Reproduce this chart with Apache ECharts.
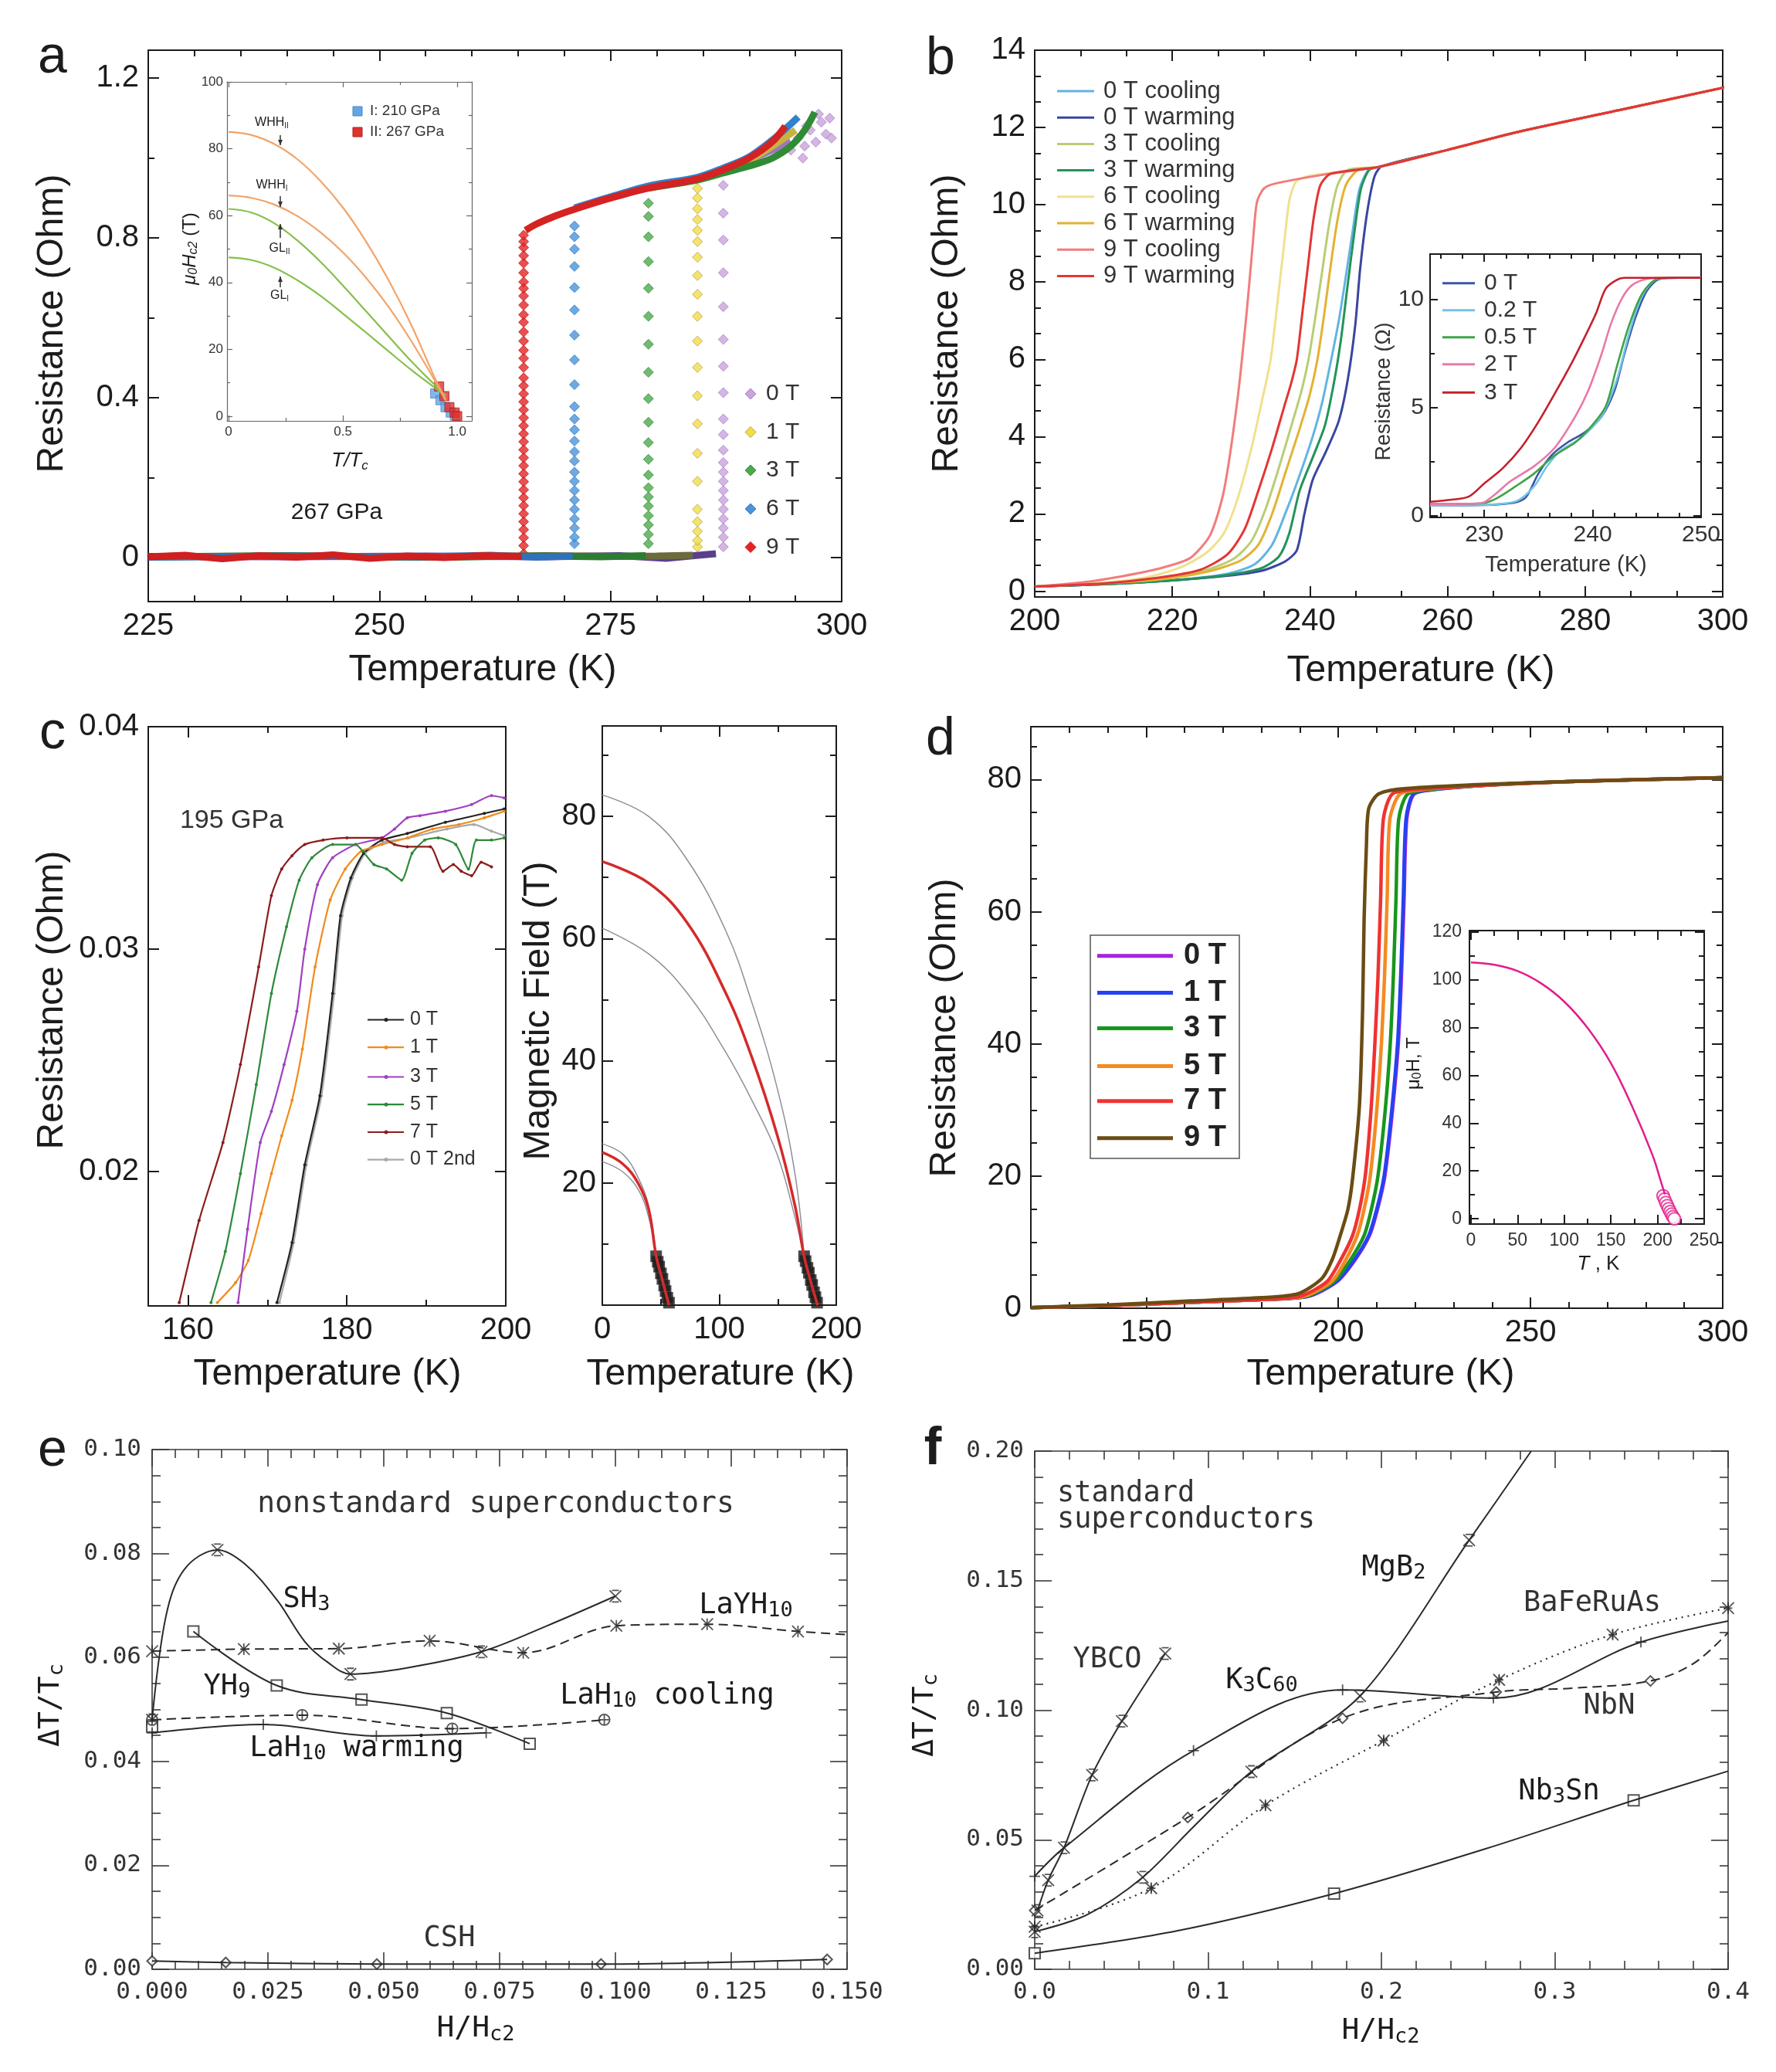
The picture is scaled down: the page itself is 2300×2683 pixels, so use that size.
<!DOCTYPE html>
<html>
<head>
<meta charset="utf-8">
<title>Resistive transitions in field</title>
<script src="https://cdn.jsdelivr.net/npm/echarts@6.0.0/dist/echarts.min.js"></script>
<style>
  html, body { margin: 0; padding: 0; background: #fff; }
  #chart { width: 2300px; height: 2683px; }
</style>
</head>
<body>
<div id="chart"></div>
<script>
// ---------------- panel a : R(T), 267 GPa ----------------
const aXTicks = [225, 250, 275, 300];
const aYTicks = [0, 0.4, 0.8, 1.2];
const aLegend = ['0 T', '1 T', '3 T', '6 T', '9 T'];
const aTc = [287.2, 284.4, 279.1, 271.1, 265.6];

const aBase0T = [225, 240, 255, 268, 276, 281, 284.5, 286.4];
const aBase0R = [0.003, 0.002, 0.004, 0.002, 0.005, -0.002, 0.006, 0.01];
const aDrop0 = [0.027, 0.051, 0.074, 0.097, 0.121, 0.144, 0.168, 0.191, 0.214, 0.238, 0.269, 0.308, 0.347, 0.413, 0.479, 0.546, 0.628, 0.713, 0.795, 0.862, 0.932];
const aNorm0T = [287.2, 289, 291, 293, 294.5];
const aNorm0R = [0.97, 0.985, 1.005, 1.025, 1.04];
const aCloud0T = [294.5, 295.3, 296, 296.6, 297.2, 297.8, 298.3, 298.7, 297.5, 296.2, 298.9, 295.8];
const aCloud0R = [1.02, 1.05, 1.03, 1.07, 1.04, 1.09, 1.06, 1.1, 1.11, 1.08, 1.05, 1.0];

const aBase1T = [225, 240, 255, 268, 276, 280, 283.9];
const aBase1R = [0.002, 0.004, 0.001, 0.005, 0.003, 0.004, 0.006];
const aDrop1 = [0.027, 0.043, 0.066, 0.09, 0.121, 0.191, 0.261, 0.335, 0.405, 0.476, 0.542, 0.604, 0.659, 0.706, 0.752, 0.791, 0.819, 0.846, 0.873, 0.9, 0.924];
const aNorm1T = [284.4, 287, 290, 292.5, 295];
const aNorm1R = [0.947, 0.968, 0.995, 1.03, 1.07];

const aBase3T = [225, 240, 255, 268, 274, 278.8];
const aBase3R = [0.002, 0.005, 0.001, 0.004, 0.002, 0.005];
const aDrop3 = [0.035, 0.058, 0.082, 0.105, 0.129, 0.152, 0.175, 0.207, 0.246, 0.288, 0.339, 0.398, 0.464, 0.534, 0.604, 0.674, 0.741, 0.803, 0.854, 0.887];
const aNorm3T = [279.1, 284.4, 287.2, 290, 292.5, 294.5, 296, 297.1];
const aNorm3R = [0.925, 0.945, 0.963, 0.98, 1.0, 1.03, 1.07, 1.115];

const aBase6T = [225, 240, 255, 262, 267, 270.9];
const aBase6R = [0.001, 0.004, 0.002, 0.006, 0.001, 0.004];
const aDrop6 = [0.035, 0.051, 0.074, 0.097, 0.121, 0.144, 0.168, 0.191, 0.214, 0.242, 0.265, 0.292, 0.32, 0.347, 0.378, 0.433, 0.495, 0.557, 0.62, 0.676, 0.729, 0.772, 0.803, 0.83];
const aNorm6T = [271.1, 275, 279.1, 284.4, 287.2, 290, 292.5, 294, 295.3];
const aNorm6R = [0.875, 0.903, 0.93, 0.952, 0.975, 1.003, 1.045, 1.075, 1.103];

const aBase9T = [225, 229, 233, 237, 241, 245, 249, 253, 257, 261, 265.4];
const aBase9R = [0.002, 0.006, -0.003, 0.005, 0.001, 0.007, -0.002, 0.004, 0.0, 0.005, 0.003];
const aDrop9 = [0.01, 0.03, 0.05, 0.07, 0.09, 0.11, 0.13, 0.15, 0.17, 0.19, 0.21, 0.23, 0.25, 0.27, 0.29, 0.31, 0.33, 0.35, 0.37, 0.39, 0.41, 0.43, 0.45, 0.476, 0.499, 0.519, 0.542, 0.565, 0.589, 0.608, 0.632, 0.655, 0.674, 0.69, 0.713, 0.737, 0.756, 0.776, 0.791, 0.807];
const aNorm9T = [265.8, 267, 269, 271.1, 275, 279.1, 284.4, 287.2, 290, 292.5, 293.9];
const aNorm9R = [0.819, 0.835, 0.855, 0.872, 0.9, 0.925, 0.948, 0.971, 1.0, 1.041, 1.08];

// inset of a : Hc2(T/Tc)
const aInXTicks = [0, 0.5, 1.0];
const aInXLabels = ['0', '0.5', '1.0'];
const aInYTicks = [0, 20, 40, 60, 80, 100];
const aInT = [0, 0.1, 0.2, 0.3, 0.4, 0.5, 0.6, 0.7, 0.8, 0.9, 0.95];
const aWHH2 = [85, 84.1, 81.4, 76.9, 70.5, 62.4, 52.4, 40.7, 27.2, 11.8, 5];
const aWHH1 = [66, 65.3, 63.3, 59.9, 55.1, 49, 41.5, 32.7, 22.4, 10.9, 4.6];
const aGL2 = [62, 60.9, 57.7, 52.6, 46.3, 39.1, 31.5, 23.9, 16.4, 9.5, 6.2];
const aGL1 = [47.5, 46.7, 44.4, 40.7, 36.1, 30.7, 25.1, 19.4, 13.8, 8.6, 6.0];
const aSqBlueT = [0.904, 0.927, 0.949, 0.972, 0.99];
const aSqBlueH = [6.8, 4.8, 2.7, 1.1, 0.2];
const aSqRedT = [0.921, 0.944, 0.966, 0.989, 1.0];
const aSqRedH = [8.9, 6.0, 2.7, 1.1, 0];
const aInLegend = ['I: 210 GPa', 'II: 267 GPa'];

// ---------------- panel b : R(T) cooling / warming ----------------
const bXTicks = [200, 220, 240, 260, 280, 300];
const bYTicks = [0, 2, 4, 6, 8, 10, 12, 14];
const bLegend = ['0 T cooling', '0 T warming', '3 T cooling', '3 T warming', '6 T cooling', '6 T warming', '9 T cooling', '9 T warming'];
const bT0c = [200, 210, 220, 228, 232, 234.5, 236.4, 238.5, 240.4, 241.8, 243.1, 244.2, 245.1, 246.2, 247.2, 248.5, 250, 260, 270.4, 285, 300.3];
const bR0c = [0.12, 0.18, 0.28, 0.45, 0.7, 1.2, 2.0, 3.0, 4.0, 4.9, 6.0, 7.0, 8.0, 9.3, 10.4, 10.9, 10.98, 11.42, 11.89, 12.45, 13.04];
const bT0w = [200, 210, 220, 228, 233, 236.4, 238.1, 239.2, 240.4, 242.3, 244.2, 245.5, 246.6, 247.3, 248.3, 249.4, 250.5, 260, 270.4, 285, 300.3];
const bR0w = [0.12, 0.18, 0.28, 0.4, 0.53, 0.77, 1.06, 2.0, 2.88, 3.6, 4.41, 5.47, 6.9, 8.34, 9.78, 10.74, 11.0, 11.42, 11.89, 12.45, 13.04];
const bT3c = [200, 210, 218, 225, 229, 231.5, 233.5, 235.5, 237.5, 238.8, 239.8, 240.8, 241.8, 242.8, 244, 245.5, 250, 260, 270.4, 285, 300.3];
const bR3c = [0.12, 0.2, 0.32, 0.55, 0.85, 1.3, 2.1, 3.2, 4.4, 5.2, 6.0, 7.1, 8.3, 9.5, 10.5, 10.9, 10.98, 11.42, 11.89, 12.45, 13.04];
const bT3w = [200, 210, 220, 228, 233, 235.5, 237, 238.5, 240.5, 242.2, 243.5, 244.5, 245.4, 246.4, 247.4, 248.6, 250, 260, 270.4, 285, 300.3];
const bR3w = [0.12, 0.18, 0.28, 0.42, 0.6, 0.9, 1.5, 2.6, 3.5, 4.3, 5.4, 6.5, 7.8, 9.2, 10.4, 10.9, 10.98, 11.42, 11.89, 12.45, 13.04];
const bT6c = [200, 210, 216, 221, 225, 227.5, 229.5, 231.5, 233, 234.3, 235.3, 236.2, 237, 238, 240, 250, 260, 270.4, 285, 300.3];
const bR6c = [0.12, 0.22, 0.35, 0.6, 1.0, 1.5, 2.4, 3.7, 4.9, 6.0, 7.5, 8.9, 10.1, 10.6, 10.75, 10.98, 11.42, 11.89, 12.45, 13.04];
const bT6w = [200, 210, 218, 225, 230, 232.5, 234.5, 236.5, 238.5, 240, 241.1, 242.1, 243, 244, 245.2, 247, 250, 260, 270.4, 285, 300.3];
const bR6w = [0.12, 0.2, 0.3, 0.5, 0.8, 1.2, 2.0, 3.1, 4.2, 5.1, 6.0, 7.2, 8.4, 9.6, 10.5, 10.9, 10.98, 11.42, 11.89, 12.45, 13.04];
const bT9c = [200, 208, 216, 220, 222.7, 225.5, 227.5, 229.5, 230.9, 231.7, 232.3, 233.3, 235, 242, 250, 260, 270.4, 285, 300.3];
const bR9c = [0.12, 0.25, 0.5, 0.68, 0.87, 1.45, 2.6, 5.0, 7.39, 9.0, 10.07, 10.42, 10.55, 10.78, 10.98, 11.42, 11.89, 12.45, 13.04];
const bT9w = [200, 210, 218, 224, 228, 230.5, 232.5, 234.5, 236.3, 237.3, 238.1, 238.9, 239.7, 240.5, 241.5, 243, 250, 260, 270.4, 285, 300.3];
const bR9w = [0.12, 0.2, 0.35, 0.55, 0.95, 1.6, 2.6, 3.7, 4.8, 5.4, 6.0, 7.2, 8.4, 9.6, 10.5, 10.8, 10.98, 11.42, 11.89, 12.45, 13.04];

// inset of b
const bInXTicks = [230, 240, 250];
const bInYTicks = [0, 5, 10];
const bInLegend = ['0 T', '0.2 T', '0.5 T', '2 T', '3 T'];
const bInT0 = [225, 230, 231.7, 233.1, 233.9, 235, 236.2, 237.7, 239.3, 240.8, 242, 242.9, 243.9, 245, 246.2, 248, 250];
const bInR0 = [0.48, 0.5, 0.55, 0.65, 0.9, 1.96, 2.8, 3.4, 3.87, 4.58, 5.77, 7.44, 9.1, 10.4, 10.95, 11.0, 11.0];
const bInT02 = [225, 229, 231.2, 233.1, 234.6, 235.8, 237, 238.9, 240.8, 242.2, 243.4, 244.6, 246, 248, 250];
const bInR02 = [0.48, 0.5, 0.54, 0.71, 1.37, 2.3, 3.0, 3.6, 4.6, 6.25, 8.5, 10.2, 10.95, 11.0, 11.0];
const bInT05 = [225, 228, 230, 231.2, 232.9, 234.6, 236.5, 238.4, 239.8, 241.2, 242.2, 243.4, 244.6, 246, 248, 250];
const bInR05 = [0.55, 0.56, 0.6, 0.83, 1.37, 1.96, 2.8, 3.4, 4.1, 5.06, 6.85, 8.87, 10.3, 10.95, 11.0, 11.0];
const bInT2 = [225, 228, 229.8, 231, 232.4, 234.6, 236.5, 238.4, 239.6, 240.8, 241.7, 242.7, 243.6, 245, 247, 250];
const bInR2 = [0.55, 0.56, 0.6, 1.0, 1.6, 2.3, 3.15, 4.6, 5.8, 7.45, 8.9, 10.05, 10.65, 10.95, 11.0, 11.0];
const bInT3 = [225, 227, 228.6, 230, 231.7, 233.4, 235, 236.5, 238.1, 239.3, 240.3, 241.2, 242.2, 242.9, 245, 250];
const bInR3 = [0.65, 0.75, 0.9, 1.5, 2.2, 3.15, 4.35, 5.65, 7.1, 8.3, 9.35, 10.5, 10.9, 11.0, 11.0, 11.0];

// ---------------- panel c : 195 GPa ----------------
const cXTicks = [160, 180, 200];
const cYTicks = [0.02, 0.03, 0.04];
const cLegend = ['0 T', '1 T', '3 T', '5 T', '7 T', '0 T 2nd'];
const cT0 = [171.2, 173.1, 174.7, 176.6, 178.2, 179.2, 180.5, 182.1, 184.4, 187.6, 192.4, 197.3, 199.8];
const cR0 = [0.0141, 0.0168, 0.0203, 0.0234, 0.028, 0.0315, 0.0332, 0.0343, 0.0349, 0.0352, 0.0357, 0.0361, 0.0363];
const cT1 = [163.7, 166, 167.6, 169.2, 170.5, 171.8, 173.1, 174.4, 176, 177.9, 179.8, 181.8, 184.4, 187.6, 190.8, 194.1, 197.3, 199.8];
const cR1 = [0.0141, 0.015, 0.016, 0.0181, 0.0199, 0.0216, 0.0232, 0.0255, 0.0292, 0.0322, 0.0336, 0.0344, 0.0347, 0.035, 0.0354, 0.0356, 0.0359, 0.0362];
const cT3 = [166.3, 167.5, 169.1, 170.5, 172.1, 173.7, 174.7, 176.3, 178.2, 181.1, 184.4, 186, 187.6, 189.2, 192.4, 195.7, 198.2, 199.8];
const cR3 = [0.0141, 0.0174, 0.0213, 0.0227, 0.0248, 0.0272, 0.03, 0.0329, 0.0341, 0.0347, 0.035, 0.0354, 0.0359, 0.036, 0.0362, 0.0365, 0.0369, 0.0368];
const cT5 = [162.9, 164.7, 166.6, 168.6, 170.5, 172.4, 174, 175.6, 178.2, 181.1, 182, 183.4, 185, 186.9, 188.2, 189.8, 191.5, 193.7, 195.3, 196.3, 198.2, 199.8];
const cR5 = [0.0141, 0.0164, 0.0199, 0.0239, 0.028, 0.031, 0.0331, 0.0341, 0.0347, 0.0347, 0.0344, 0.0338, 0.0336, 0.0331, 0.0343, 0.0349, 0.035, 0.0347, 0.0336, 0.0349, 0.0349, 0.035];
const cT7 = [158.9, 161.4, 164.4, 166.6, 168.9, 170.5, 171.8, 173.1, 174.7, 177, 180, 184.4, 186, 187.6, 190.5, 192.1, 193.4, 194.4, 195.7, 196.9, 198.2];
const cR7 = [0.0141, 0.0178, 0.0213, 0.0248, 0.0292, 0.0324, 0.0336, 0.0342, 0.0347, 0.0349, 0.035, 0.035, 0.0347, 0.0346, 0.0346, 0.0335, 0.0338, 0.0335, 0.0333, 0.0339, 0.0337];
const cT02 = [171.5, 173.3, 174.9, 176.8, 178.4, 179.4, 180.7, 182.3, 184.6, 187.8, 192.6, 196, 198.2, 199.8];
const cR02 = [0.0141, 0.0168, 0.0203, 0.0234, 0.028, 0.0315, 0.0332, 0.0343, 0.0348, 0.035, 0.0354, 0.0356, 0.0353, 0.0351];

// c right : Hc2(T)
const cHXTicks = [0, 100, 200];
const cHYTicks = [20, 40, 60, 80];
const cHiT = [0, 39.6, 72.5, 105.5, 127.4, 149.4, 164.7, 172.5];
const cHiGrayA = [83.5, 80, 72.9, 61.3, 49.8, 35.6, 21.5, 8.0];
const cHiGrayB = [61.7, 57.5, 51.1, 41.4, 33.7, 24.7, 14.4, 8.0];
const cHiRedT = [0, 39.6, 72.5, 105.5, 127.4, 149.4, 164.7, 172.5, 178, 184];
const cHiRed = [72.6, 69.1, 62.6, 51.1, 40.8, 27.9, 16.3, 8.0, 4.0, 0];
const cLoT = [0, 17.6, 30.8, 39.6, 46.1];
const cLoGrayA = [26.4, 24.7, 20.8, 16.3, 8.0];
const cLoGrayB = [23.5, 21.8, 18.9, 14.4, 8.0];
const cLoRedT = [0, 17.6, 30.8, 39.6, 46.1, 51.5, 57];
const cLoRed = [25, 23.1, 19.9, 15.7, 8.0, 4.0, 0];
const cSqLoT = [46, 47.4, 48.6, 50.1, 51.4, 52.9, 54.1, 55.6, 57];
const cSqLoH = [8, 7.1, 6.3, 5.2, 4.3, 3.2, 2.3, 1.2, 0.4];
const cSqHiT = [172.5, 173.8, 175.4, 176.6, 178.2, 179.4, 181, 182.2, 183.6];
const cSqHiH = [8, 7.2, 6.1, 5.3, 4.1, 3.3, 2.1, 1.3, 0.4];

// ---------------- panel d ----------------
const dXTicks = [150, 200, 250, 300];
const dYTicks = [0, 20, 40, 60, 80];
const dLegend = ['0 T', '1 T', '3 T', '5 T', '7 T', '9 T'];
const dRShared = [0.1, 0.4, 0.9, 1.3, 1.8, 4, 7.2, 11, 15, 20, 30, 40, 50, 62, 74, 77.8, 78.5, 79.2, 79.7, 80.3];
const dT0 = [120, 140, 161.6, 180, 192.2, 199.6, 204.2, 208.1, 210.2, 212.1, 214.1, 215.6, 216.4, 217.1, 217.8, 219.7, 225, 240, 260, 300];
const dT1 = [120, 140, 161.6, 180, 192, 199.4, 204, 207.9, 210, 211.9, 213.9, 215.4, 216.2, 216.9, 217.6, 219.5, 225, 240, 260, 300];
const dT3 = [120, 140, 161.6, 180, 191.5, 198.8, 203, 206.7, 208.6, 210.3, 212.2, 213.5, 214.3, 215, 215.7, 218, 224, 240, 260, 300];
const dT5 = [120, 140, 161.6, 180, 191, 198.2, 201.8, 204.9, 206.7, 208.3, 210, 211.2, 212, 212.7, 213.4, 216, 222, 240, 260, 300];
const dT7 = [120, 140, 161.6, 180, 190, 197, 200.5, 203.7, 205.5, 207, 208.5, 209.5, 210.3, 211, 211.7, 214, 220, 240, 260, 300];
const dT9 = [120, 140, 161.6, 180, 189.6, 195.7, 198.5, 200.6, 202.5, 203.7, 205.5, 206.3, 206.7, 207.3, 207.9, 210.4, 216.5, 234.8, 260, 300];
const dR9 = [0.1, 0.5, 1.1, 1.6, 2.2, 4.5, 7.5, 11.2, 15, 19.6, 30.8, 45, 58.8, 70, 75.6, 77.8, 78.6, 79.2, 79.7, 80.3];
// inset of d
const dInXTicks = [0, 50, 100, 150, 200, 250];
const dInYTicks = [0, 20, 40, 60, 80, 100, 120];
const dInT = [0, 25, 50, 75, 100, 125, 150, 173, 194.8, 203.6, 207.9];
const dInH = [107.2, 106.2, 103.6, 98.5, 90.8, 79.8, 65.1, 46.8, 26.4, 15.6, 10.2];
const dCircT = [206, 207.5, 209, 210.5, 212, 213.5, 215, 216.5, 218];
const dCircH = [9.6, 8.2, 6.8, 5.5, 4.2, 3.0, 1.9, 0.9, 0];

// ---------------- panel e : nonstandard ----------------
const eXTicks = [0, 0.025, 0.05, 0.075, 0.1, 0.125, 0.15];
const eYTicks = [0, 0.02, 0.04, 0.06, 0.08, 0.1];
const eSH3X = [0, 0.003, 0.007, 0.0141, 0.02, 0.027, 0.033, 0.038, 0.0428, 0.055, 0.0711, 0.085, 0.1];
const eSH3Y = [0.048, 0.068, 0.077, 0.0807, 0.078, 0.071, 0.063, 0.059, 0.0568, 0.058, 0.0611, 0.066, 0.0718];
const eSH3MX = [0, 0.0141, 0.0428, 0.0711, 0.1];
const eSH3MY = [0.048, 0.0807, 0.0568, 0.0611, 0.0718];
const eLaYX = [0, 0.0198, 0.0403, 0.0599, 0.0801, 0.1002, 0.1198, 0.1394, 0.15];
const eLaYY = [0.0612, 0.0616, 0.0617, 0.0632, 0.0609, 0.0661, 0.0664, 0.065, 0.0644];
const eYH9X = [0.0089, 0.0269, 0.0452, 0.0636, 0.0815];
const eYH9Y = [0.065, 0.0546, 0.0519, 0.0493, 0.0434];
const eYH9MX = [0, 0.0089, 0.0269, 0.0452, 0.0636, 0.0815];
const eYH9MY = [0.0467, 0.065, 0.0546, 0.0519, 0.0493, 0.0434];
const eLaCX = [0, 0.0324, 0.0648, 0.0976];
const eLaCY = [0.048, 0.0489, 0.0463, 0.048];
const eLaWX = [0, 0.024, 0.0484, 0.0721];
const eLaWY = [0.0455, 0.0471, 0.0449, 0.0455];
const eCSHX = [0, 0.0159, 0.0485, 0.0969, 0.1457];
const eCSHY = [0.0016, 0.0013, 0.001, 0.001, 0.0019];

// ---------------- panel f : standard ----------------
const fXTicks = [0, 0.1, 0.2, 0.3, 0.4];
const fYTicks = [0, 0.05, 0.1, 0.15, 0.2];
const fYBCOX = [0.0016, 0.0078, 0.0169, 0.0331, 0.0503, 0.0753];
const fYBCOY = [0.0227, 0.0344, 0.0469, 0.075, 0.0958, 0.1219];
const fK3X = [0, 0.0169, 0.0916, 0.1776, 0.2646, 0.3497, 0.4];
const fK3Y = [0.0359, 0.0469, 0.0844, 0.1078, 0.1047, 0.1263, 0.1344];
const fK3MX = [0, 0.0916, 0.1776, 0.2646, 0.3497];
const fK3MY = [0.0359, 0.0844, 0.1078, 0.1047, 0.1263];
const fMgX = [0, 0.03, 0.0623, 0.0916, 0.125, 0.1877, 0.2506, 0.2864];
const fMgY = [0.0145, 0.021, 0.0355, 0.055, 0.0763, 0.1055, 0.1656, 0.2];
const fMgMX = [0, 0.0623, 0.125, 0.1877, 0.2506];
const fMgMY = [0.0145, 0.0355, 0.0763, 0.1055, 0.1656];
const fNbNX = [0, 0.0883, 0.1776, 0.2662, 0.31, 0.3552, 0.38, 0.4];
const fNbNY = [0.0227, 0.0586, 0.0969, 0.107, 0.1085, 0.1113, 0.118, 0.13];
const fNbNMX = [0, 0.0883, 0.1776, 0.2662, 0.3552];
const fNbNMY = [0.0227, 0.0586, 0.0969, 0.107, 0.1113];
const fBaX = [0, 0.0672, 0.1331, 0.2013, 0.2679, 0.3334, 0.4];
const fBaY = [0.0164, 0.0313, 0.0633, 0.0883, 0.1117, 0.1292, 0.1394];
const fNb3X = [0, 0.082, 0.1727, 0.26, 0.3455, 0.4];
const fNb3Y = [0.0062, 0.0148, 0.0292, 0.0465, 0.0652, 0.0765];
const fNb3MX = [0, 0.1727, 0.3455];
const fNb3MY = [0.0062, 0.0292, 0.0652];

// ================= building the option =================
const INK = '#1c1c1c';
const SANS = '"Liberation Sans", Arial, sans-serif';
const MONO = '"DejaVu Sans Mono", monospace';
const grids = [], xAxes = [], yAxes = [], series = [], graphics = [];

function zip(xs, ys) { return xs.map((x, i) => [x, ys[i]]); }
function at(x, ys) { return ys.map(y => [x, y]); }

function minorVals(min, max, step, majors) {
  const out = [];
  for (let v = Math.ceil(min / step - 1e-9) * step; v <= max + 1e-9; v += step) {
    const r = +v.toFixed(6);
    if (!majors.some(m => Math.abs(m - r) < step / 100)) out.push(r);
  }
  return out;
}

function spec(min, max, ticks, minorStep, o) {
  return Object.assign({min, max, ticks, minorStep, len: 14, minorLen: 8, width: 2, color: INK,
    size: 40, family: SANS, labelColor: INK, margin: 12, fmt: v => String(v), labels: true}, o || {});
}

function addAxes(list, gi, s, sides) {
  const minor = s.minorStep ? minorVals(s.min, s.max, s.minorStep, s.ticks) : [];
  sides.forEach((side, k) => {
    const base = {type: 'value', gridIndex: gi, min: s.min, max: s.max, position: side, splitLine: {show: false}};
    list.push(Object.assign({}, base, {
      axisLine: {show: true, onZero: false, lineStyle: {color: s.color, width: s.width}},
      axisTick: {show: true, inside: true, length: s.len, customValues: s.ticks, lineStyle: {color: s.color, width: s.width}},
      axisLabel: {show: k === 0 && s.labels, customValues: s.ticks, formatter: s.fmt, fontSize: s.size,
        fontFamily: s.family, color: s.labelColor, margin: s.margin}
    }));
    if (minor.length) {
      list.push(Object.assign({}, base, {
        axisLine: {show: false, onZero: false},
        axisTick: {show: true, inside: true, length: s.minorLen, customValues: minor, lineStyle: {color: s.color, width: s.width}},
        axisLabel: {show: false}
      }));
    }
  });
}

function panel(box, xs, ys) {
  const gi = grids.length;
  grids.push({left: box[0], top: box[1], width: box[2], height: box[3], containLabel: false, outerBoundsMode: 'none'});
  const ax = {x: xAxes.length, y: yAxes.length};
  addAxes(xAxes, gi, xs, ['bottom', 'top']);
  addAxes(yAxes, gi, ys, ['left', 'right']);
  return ax;
}

function line(ax, data, color, width, o) {
  series.push(Object.assign({type: 'line', xAxisIndex: ax.x, yAxisIndex: ax.y, data: data, showSymbol: false,
    symbol: 'none', smooth: 0.3, lineStyle: {color: color, width: width}, itemStyle: {color: color},
    silent: true, animation: false}, o || {}));
}
function marks(ax, data, symbol, size, itemStyle, o) {
  series.push(Object.assign({type: 'scatter', xAxisIndex: ax.x, yAxisIndex: ax.y, data: data, symbol: symbol,
    symbolSize: size, itemStyle: itemStyle, silent: true, animation: false}, o || {}));
}

function rich(size, fam, ratio, italic) {
  const st = italic ? 'italic' : 'normal';
  return {
    m: {fontSize: size, fontFamily: fam, fontStyle: st, fill: INK, lineHeight: Math.round(size * 1.1)},
    n: {fontSize: size, fontFamily: fam, fontStyle: 'normal', fill: INK, lineHeight: Math.round(size * 1.1)},
    s: {fontSize: Math.round(size * ratio), fontFamily: fam, fontStyle: st, fill: INK, verticalAlign: 'bottom', lineHeight: Math.round(size * 0.62)}
  };
}
function txt(x, y, str, size, o) {
  o = o || {};
  const el = {type: 'text', x: x, y: y, z: 100, rotation: o.rot || 0, silent: true,
    style: {text: str, fontSize: size, fontFamily: o.family || SANS, fontStyle: o.italic ? 'italic' : 'normal',
      fontWeight: o.bold ? 'bold' : 'normal', fill: o.color || INK, align: o.align || 'center', verticalAlign: 'middle'}};
  if (o.rich) el.style.rich = o.rich;
  graphics.push(el);
}
function gline(x1, y1, x2, y2, color, width, dash) {
  graphics.push({type: 'line', z: 100, silent: true, shape: {x1, y1, x2, y2},
    style: {stroke: color, lineWidth: width, lineDash: dash || null}});
}
function arrow(x, y1, y2) {
  gline(x, y1, x, y2, '#333', 1.5);
  const d = y2 > y1 ? 1 : -1;
  graphics.push({type: 'polygon', z: 100, silent: true,
    shape: {points: [[x - 3, y2 - d * 7], [x + 3, y2 - d * 7], [x, y2]]}, style: {fill: '#333'}});
}

// ---------- panel a ----------
const axA = panel([192, 65, 898, 714],
  spec(225, 300, aXTicks, 5, {}),
  spec(-0.11, 1.27, aYTicks, 0.2, {}));
const aBaseCol = ['#5b3f8e', '#6d6a3c', '#2c7d33', '#2f72bb', '#cf1f1f'];
const aNormCol = ['#9a78bb', '#c8b240', '#2f8c34', '#2f82cc', '#d52222'];
const aMarkFill = ['#c9a3dc', '#f3dc4c', '#4caa4c', '#4b93da', '#e42424'];
const aMarkLine = ['#a784c4', '#b9a136', '#3a8e3a', '#3a7dc0', '#c81c1c'];
const aBases = [[aBase0T, aBase0R], [aBase1T, aBase1R], [aBase3T, aBase3R], [aBase6T, aBase6R], [aBase9T, aBase9R]];
const aNorms = [[aNorm0T, aNorm0R], [aNorm1T, aNorm1R], [aNorm3T, aNorm3R], [aNorm6T, aNorm6R], [aNorm9T, aNorm9R]];
const aDrops = [aDrop0, aDrop1, aDrop3, aDrop6, aDrop9];
for (let i = 0; i < 5; i++) {
  line(axA, zip(aBases[i][0], aBases[i][1]), aBaseCol[i], 9, {smooth: false});
  line(axA, zip(aNorms[i][0], aNorms[i][1]), aNormCol[i], 9, {smooth: 0.3});
  marks(axA, at(aTc[i], aDrops[i]), 'diamond', 13, {color: aMarkFill[i], borderColor: aMarkLine[i], borderWidth: 1});
  if (i === 0) marks(axA, zip(aCloud0T, aCloud0R), 'diamond', 13, {color: aMarkFill[0], borderColor: aMarkLine[0], borderWidth: 1});
}
txt(68, 75, 'a', 68);
txt(68, 419, 'Resistance (Ohm)', 48, {rot: Math.PI / 2});
txt(625, 868, 'Temperature (K)', 48);
txt(436, 664, '267 GPa', 30);
aLegend.forEach((lab, i) => {
  const y = [510, 559.5, 609, 659, 708.5][i];
  graphics.push({type: 'polygon', z: 100, silent: true, shape: {points: [[972, y - 7], [979, y], [972, y + 7], [965, y]]},
    style: {fill: aMarkFill[i], stroke: aMarkLine[i], lineWidth: 1}});
  txt(992, y, lab, 30, {align: 'left', color: '#333'});
});

// inset a
const axAi = panel([294, 106, 317, 439],
  spec(-0.007, 1.064, aInXTicks, 0.25, {size: 17, len: 7, minorLen: 4, width: 1.2, color: '#666', labelColor: '#333', margin: 6,
    fmt: v => aInXLabels[aInXTicks.findIndex(t => Math.abs(t - v) < 1e-6)]}),
  spec(-1.4, 100, aInYTicks, 10, {size: 17, len: 7, minorLen: 4, width: 1.2, color: '#666', labelColor: '#333', margin: 5}));
line(axAi, zip(aInT, aGL1), '#86c04a', 2.2, {smooth: 0.4});
line(axAi, zip(aInT, aGL2), '#86c04a', 2.2, {smooth: 0.4});
line(axAi, zip(aInT, aWHH1), '#f2a46a', 2.2, {smooth: 0.4});
line(axAi, zip(aInT, aWHH2), '#f2a46a', 2.2, {smooth: 0.4});
marks(axAi, zip(aSqBlueT, aSqBlueH), 'rect', 12, {color: '#62a6e4', borderColor: '#4a86c0', borderWidth: 1});
marks(axAi, zip(aSqRedT, aSqRedH), 'rect', 12, {color: '#e2322e', borderColor: '#a82020', borderWidth: 1});
graphics.push({type: 'rect', z: 100, silent: true, shape: {x: 457, y: 138, width: 12, height: 12}, style: {fill: '#62a6e4', stroke: '#4a86c0'}});
graphics.push({type: 'rect', z: 100, silent: true, shape: {x: 457, y: 165, width: 12, height: 12}, style: {fill: '#e2322e', stroke: '#a82020'}});
txt(479, 144, aInLegend[0], 19, {align: 'left', color: '#333'});
txt(479, 171, aInLegend[1], 19, {align: 'left', color: '#333'});
const rA = rich(16, SANS, 0.65, false);
txt(352, 159, '{n|WHH}{s|II}', 16, {rich: rA});
arrow(363, 175, 188);
txt(352, 240, '{n|WHH}{s|I}', 16, {rich: rA});
arrow(363, 254, 268);
txt(362, 322, '{n|GL}{s|II}', 16, {rich: rA});
arrow(363, 308, 290);
txt(362, 383, '{n|GL}{s|I}', 16, {rich: rA});
arrow(363, 372, 358);
const rAi = rich(24, SANS, 0.65, true);
txt(246, 322, '{m|μ}{s|0}{m|H}{s|c2}{n| (T)}', 24, {rot: Math.PI / 2, rich: rAi});
txt(453, 597, '{m|T/T}{s|c}', 26, {rich: rich(26, SANS, 0.65, true)});

// ---------- panel b ----------
const axB = panel([1340, 65, 891, 708],
  spec(200, 300, bXTicks, 20 / 3, {}),
  spec(-0.15, 14, bYTicks, 2 / 3, {}));
const bCol = ['#62b4e2', '#3b45a0', '#b9cd74', '#23935a', '#f1e08e', '#e2b232', '#f27c7c', '#e23636'];
const bData = [[bT0c, bR0c], [bT0w, bR0w], [bT3c, bR3c], [bT3w, bR3w], [bT6c, bR6c], [bT6w, bR6w], [bT9c, bR9c], [bT9w, bR9w]];
bData.forEach((d, i) => line(axB, zip(d[0], d[1]), bCol[i], 3, {smooth: 0.25}));
txt(1218, 77, 'b', 68);
txt(1227, 419, 'Resistance (Ohm)', 48, {rot: Math.PI / 2});
txt(1840, 869, 'Temperature (K)', 48);
bLegend.forEach((lab, i) => {
  const y = 118 + i * 34.2;
  gline(1369, y, 1417, y, bCol[i], 3);
  txt(1429, y, lab, 31, {align: 'left', color: '#333'});
});
// inset b
const axBi = panel([1852, 329, 351, 341],
  spec(225, 250, bInXTicks, 2, {size: 30, len: 10, minorLen: 6, width: 2, margin: 8, labelColor: '#333'}),
  spec(-0.07, 12.1, bInYTicks, 2.5, {size: 30, len: 10, minorLen: 6, width: 2, margin: 8, labelColor: '#333'}));
const bInCol = ['#3a55a8', '#72c4e4', '#3ea548', '#ea78a8', '#c4202c'];
const bInData = [[bInT0, bInR0], [bInT02, bInR02], [bInT05, bInR05], [bInT2, bInR2], [bInT3, bInR3]];
bInData.forEach((d, i) => line(axBi, zip(d[0], d[1]), bInCol[i], 2.6, {smooth: 0.3}));
bInLegend.forEach((lab, i) => {
  const y = [366.7, 401.7, 436.7, 471.7, 508.3][i];
  gline(1868, y, 1910, y, bInCol[i], 3);
  txt(1922, y, lab, 30, {align: 'left', color: '#333'});
});
txt(1793, 507, 'Resistance (Ω)', 27, {rot: Math.PI / 2, color: '#333'});
txt(2028, 732, 'Temperature (K)', 29, {color: '#333'});

// ---------- panel c ----------
const axC = panel([192, 941, 463, 750],
  spec(155, 200, cXTicks, 10, {}),
  spec(0.01395, 0.04, cYTicks, 0, {fmt: v => v.toFixed(2)}));
const cCol = ['#222222', '#f08c1e', '#a040c0', '#2e8a3a', '#8b1c1c', '#a8a8a8'];
const cData = [[cT02, cR02], [cT0, cR0], [cT1, cR1], [cT3, cR3], [cT5, cR5], [cT7, cR7]];
const cColOrder = [cCol[5], cCol[0], cCol[1], cCol[2], cCol[3], cCol[4]];
cData.forEach((d, i) => line(axC, zip(d[0], d[1]), cColOrder[i], 2.2,
  {smooth: 0.2, showSymbol: true, symbol: 'circle', symbolSize: 4}));
txt(68, 950, 'c', 68);
txt(68, 1295, 'Resistance (Ohm)', 48, {rot: Math.PI / 2});
txt(424, 1780, 'Temperature (K)', 48);
txt(300, 1063, '195 GPa', 34, {color: '#333'});
cLegend.forEach((lab, i) => {
  const y = [1320.5, 1356.2, 1394.5, 1430.2, 1466, 1501.6][i];
  gline(476, y, 523, y, cCol[i], 2.2);
  graphics.push({type: 'circle', z: 100, silent: true, shape: {cx: 500, cy: y, r: 2.5}, style: {fill: cCol[i]}});
  txt(531, y, lab, 25, {align: 'left', color: '#333'});
});
const axCh = panel([780, 940, 303, 750],
  spec(0, 200, cHXTicks, 50, {}),
  spec(0, 94.8, cHYTicks, 10, {margin: 8}));
marks(axCh, zip(cSqLoT, cSqLoH), 'rect', 15, {color: '#1a1a1a'});
marks(axCh, zip(cSqHiT, cSqHiH), 'rect', 15, {color: '#1a1a1a'});
line(axCh, zip(cHiT, cHiGrayA), '#8e8e9a', 1.5, {smooth: 0.4});
line(axCh, zip(cHiT, cHiGrayB), '#8e8e9a', 1.5, {smooth: 0.4});
line(axCh, zip(cLoT, cLoGrayA), '#8e8e9a', 1.5, {smooth: 0.4});
line(axCh, zip(cLoT, cLoGrayB), '#8e8e9a', 1.5, {smooth: 0.4});
line(axCh, zip(cHiRedT, cHiRed), '#d42a2a', 3.5, {smooth: 0.4});
line(axCh, zip(cLoRedT, cLoRed), '#d42a2a', 3.5, {smooth: 0.4});
txt(698, 1309, 'Magnetic Field (T)', 48, {rot: Math.PI / 2});
txt(933, 1780, 'Temperature (K)', 48);

// ---------- panel d ----------
const axD = panel([1335, 941, 896, 753],
  spec(120, 300, dXTicks, 10, {}),
  spec(0, 88, dYTicks, 5, {}));
const dCol = ['#a424dc', '#2442f2', '#18961c', '#f48a22', '#f03232', '#6b4c14'];
const dTs = [dT0, dT1, dT3, dT5, dT7];
dTs.forEach((t, i) => line(axD, zip(t, dRShared), dCol[i], 4.5, {smooth: 0.25}));
line(axD, zip(dT9, dR9), dCol[5], 4.5, {smooth: 0.25});
txt(1218, 958, 'd', 68);
txt(1224, 1331, 'Resistance (Ohm)', 48, {rot: Math.PI / 2});
txt(1788, 1780, 'Temperature (K)', 48);
graphics.push({type: 'rect', z: 99, silent: true, shape: {x: 1412, y: 1211, width: 193, height: 289},
  style: {fill: '#fff', stroke: '#555', lineWidth: 1.5}});
dLegend.forEach((lab, i) => {
  const y = [1237.8, 1285.6, 1331.6, 1380.4, 1425.8, 1473.7][i];
  gline(1421, y, 1519, y, dCol[i], 5);
  txt(1533, y, lab, 38, {align: 'left', bold: true, color: '#222'});
});
const axDi = panel([1903, 1205, 304, 380],
  spec(-1.6, 250, dInXTicks, 25, {size: 23, len: 12, minorLen: 7, width: 2, margin: 10, labelColor: '#333'}),
  spec(-2.2, 120.5, dInYTicks, 10, {size: 23, len: 12, minorLen: 7, width: 2, margin: 10, labelColor: '#333'}));
line(axDi, zip(dInT, dInH), '#e31c8c', 2.5, {smooth: 0.4});
marks(axDi, zip(dCircT, dCircH), 'emptyCircle', 16, {color: '#e31c8c', borderWidth: 2});
txt(1831, 1377, '{n|μ}{s|0}{n|H, T}', 24, {rot: Math.PI / 2, rich: rich(24, SANS, 0.65, false)});
txt(2070, 1637, '{m|T}{n| , K}', 26, {rich: rich(26, SANS, 0.65, true)});

// ---------- panel e ----------
const EINK = '#333';
const eSpecO = {size: 31, family: MONO, len: 22, minorLen: 11, width: 1.6, color: '#3a3a3a', labelColor: EINK, margin: 14};
const axE = panel([197, 1877, 900, 673],
  spec(0, 0.15, eXTicks, 0.005, Object.assign({}, eSpecO, {fmt: v => v.toFixed(3)})),
  spec(0, 0.1, eYTicks, 0.005, Object.assign({}, eSpecO, {fmt: v => v.toFixed(2)})));
const XMARK = 'path://M0,0L10,10M10,0L0,10M2,0L8,0M2,10L8,10';
const STAR = 'path://M0,0L10,10M10,0L0,10M5,0L5,10';
const PLUS = 'path://M5,0L5,10M0,5L10,5';
const OPLUS = 'path://M0,5A5,5,0,1,0,10,5A5,5,0,1,0,0,5ZM5,0L5,10M0,5L10,5';
const STROKE = {color: 'rgba(0,0,0,0)', borderColor: '#2a2a2a', borderWidth: 1.8};
line(axE, zip(eSH3X, eSH3Y), '#2a2a2a', 2, {smooth: 0.35});
marks(axE, zip(eSH3MX, eSH3MY), XMARK, 15, STROKE);
line(axE, zip(eLaYX, eLaYY), '#2a2a2a', 2, {smooth: 0.35, lineStyle: {color: '#2a2a2a', width: 2, type: [12, 7]}});
marks(axE, zip(eLaYX.slice(0, 8), eLaYY.slice(0, 8)), STAR, 15, STROKE);
line(axE, zip(eYH9X, eYH9Y), '#2a2a2a', 2, {smooth: 0.35});
marks(axE, zip(eYH9MX, eYH9MY), 'emptyRect', 14, {color: '#2a2a2a', borderWidth: 1.8});
line(axE, zip(eLaCX, eLaCY), '#2a2a2a', 2, {smooth: 0.35, lineStyle: {color: '#2a2a2a', width: 2, type: [12, 7]}});
marks(axE, zip(eLaCX, eLaCY), OPLUS, 14, STROKE);
line(axE, zip(eLaWX, eLaWY), '#2a2a2a', 2, {smooth: 0.35});
marks(axE, zip(eLaWX, eLaWY), PLUS, 14, STROKE);
line(axE, zip(eCSHX, eCSHY), '#2a2a2a', 2, {smooth: 0.3});
marks(axE, zip(eCSHX, eCSHY), 'emptyDiamond', 13, {color: '#2a2a2a', borderWidth: 1.6});
txt(68, 1879, 'e', 68);
const rE = rich(38, MONO, 0.72, false);
txt(66, 2208, '{m|ΔT/T}{s|c}', 38, {rot: Math.PI / 2, rich: rE});
txt(616, 2627, '{m|H/H}{s|c2}', 38, {rich: rE});
txt(642, 1948, 'nonstandard superconductors', 38, {family: MONO, color: EINK});
const rE2 = rich(37, MONO, 0.72, false);
txt(397, 2071, '{m|SH}{s|3}', 37, {rich: rE2});
txt(294, 2184, '{m|YH}{s|9}', 37, {rich: rE2});
txt(966, 2079, '{m|LaYH}{s|10}', 37, {rich: rE2});
txt(864, 2196, '{m|LaH}{s|10}{m| cooling}', 37, {rich: rE2});
txt(462, 2264, '{m|LaH}{s|10}{m| warming}', 37, {rich: rE2});
txt(582, 2510, 'CSH', 37, {family: MONO, color: EINK});

// ---------- panel f ----------
const axF = panel([1340, 1879, 898, 671],
  spec(0, 0.4, fXTicks, 0.02, Object.assign({}, eSpecO, {fmt: v => v.toFixed(1)})),
  spec(0, 0.2, fYTicks, 0.01, Object.assign({}, eSpecO, {fmt: v => v.toFixed(2)})));
line(axF, zip(fNb3X, fNb3Y), '#2a2a2a', 2, {smooth: 0.3});
marks(axF, zip(fNb3MX, fNb3MY), 'emptyRect', 14, {color: '#2a2a2a', borderWidth: 1.8});
line(axF, zip(fBaX, fBaY), '#2a2a2a', 2.2, {smooth: 0.35, lineStyle: {color: '#2a2a2a', width: 2.2, type: [2, 6]}});
marks(axF, zip(fBaX, fBaY), STAR, 15, STROKE);
marks(axF, zip(fBaX, fBaY), PLUS, 11, STROKE);
line(axF, zip(fNbNX, fNbNY), '#2a2a2a', 2, {smooth: 0.35, lineStyle: {color: '#2a2a2a', width: 2, type: [12, 7]}});
marks(axF, zip(fNbNMX, fNbNMY), 'emptyDiamond', 13, {color: '#2a2a2a', borderWidth: 1.6});
line(axF, zip(fMgX, fMgY), '#2a2a2a', 2, {smooth: 0.3});
marks(axF, zip(fMgMX, fMgMY), XMARK, 15, STROKE);
line(axF, zip(fK3X, fK3Y), '#2a2a2a', 2, {smooth: 0.35});
marks(axF, zip(fK3MX, fK3MY), PLUS, 14, STROKE);
line(axF, zip(fYBCOX, fYBCOY), '#2a2a2a', 2, {smooth: 0.3});
marks(axF, zip(fYBCOX, fYBCOY), XMARK, 15, STROKE);
txt(1208, 1877, 'f', 68, {bold: true});
txt(1198, 2221, '{m|ΔT/T}{s|c}', 38, {rot: Math.PI / 2, rich: rE});
txt(1788, 2630, '{m|H/H}{s|c2}', 38, {rich: rE});
txt(1369, 1934, 'standard', 37, {family: MONO, color: EINK, align: 'left'});
txt(1369, 1968, 'superconductors', 37, {family: MONO, color: EINK, align: 'left'});
txt(1805, 2030, '{m|MgB}{s|2}', 37, {rich: rE2});
txt(2062, 2076, 'BaFeRuAs', 37, {family: MONO, color: EINK});
txt(1434, 2149, 'YBCO', 37, {family: MONO, color: EINK});
txt(1634, 2176, '{m|K}{s|3}{m|C}{s|60}', 37, {rich: rE2});
txt(2084, 2209, 'NbN', 37, {family: MONO, color: EINK});
txt(2019, 2320, '{m|Nb}{s|3}{m|Sn}', 37, {rich: rE2});

const chart = echarts.init(document.getElementById('chart'));
chart.setOption({
  animation: false,
  backgroundColor: '#fff',
  textStyle: {fontFamily: SANS},
  grid: grids,
  xAxis: xAxes,
  yAxis: yAxes,
  series: series,
  graphic: {elements: graphics}
});
</script>
</body>
</html>
